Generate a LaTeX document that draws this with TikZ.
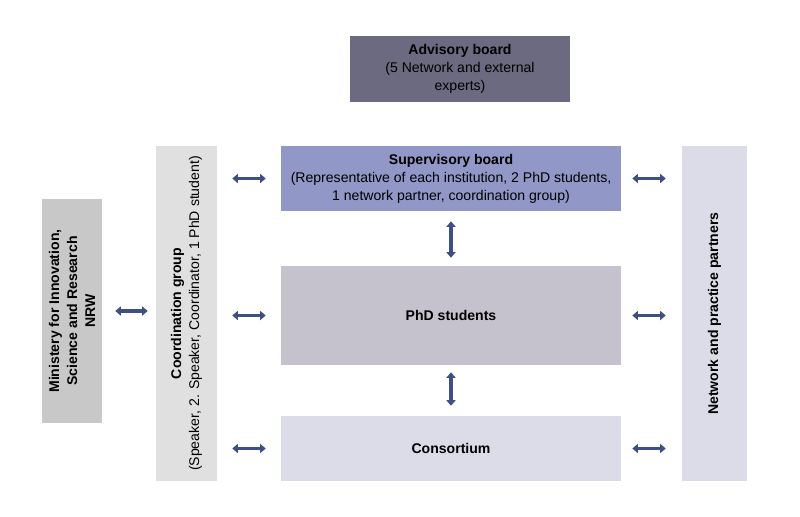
\documentclass[tikz,border=0pt]{standalone}
\usepackage{fontspec}
\setmainfont{Liberation Sans}
\usepackage{xcolor}
\usepackage{tikz}
\usetikzlibrary{shapes, arrows.meta, positioning}
\definecolor{advisory}{HTML}{6B6A80}
\definecolor{supervisory}{HTML}{9198C8}
\definecolor{phd}{HTML}{C5C2CE}
\definecolor{consortium}{HTML}{DCDCE8}
\definecolor{ministry}{HTML}{C8C8C8}
\definecolor{coordination}{HTML}{E0E0E0}
\definecolor{arrowblue}{HTML}{3F4F82}

\begin{document}
\begin{tikzpicture}
  [
    x=0.025cm, y=-0.025cm,
    Box/.style={rectangle, draw=none, align=center, font=\fontsize{10}{12.8}\selectfont, inner sep=2pt},
    Wide/.style={Box, minimum width=8.5cm},
    Tall/.style={Box, rotate=90, minimum width=8.375cm},
    Link/.style={{Triangle[length=4pt,width=6.5pt]}-{Triangle[length=4pt,width=6.5pt]}, draw=arrowblue, line width=2.5pt}
  ]
  \useasboundingbox (0,0) rectangle (800,516);
  % Nodes
  \node[Box, fill=advisory, minimum width=5.5cm, minimum height=1.65cm] (adv) at(460, 69)
    {\textbf{Advisory board}\\(5 Network and external\\experts)};
  \node[Wide, fill=supervisory, minimum height=1.625cm] (sup) at(451, 178.5)
    {\textbf{Supervisory board}\\(Representative of each institution, 2 PhD students,\\1 network partner, coordination group)};
  \node[Wide, fill=phd, minimum height=2.475cm] (phd) at(451, 315.5) {\textbf{PhD students}};
  \node[Wide, fill=consortium, minimum height=1.625cm] (cons) at(451, 448.5) {\textbf{Consortium}};
  \node[Box, fill=ministry, rotate=90, minimum width=5.6cm, minimum height=1.5cm] (min) at(72, 311)
    {\textbf{Ministery for Innovation,}\\\textbf{Science and Research}\\\textbf{NRW}};
  \node[Tall, fill=coordination, minimum height=1.525cm] (coord) at(186.5, 313.5)
    {\textbf{Coordination group}\\(Speaker, 2. Speaker, Coordinator, 1 PhD student)};
  \node[Tall, fill=consortium, minimum height=1.625cm] (net) at(714.5, 313.5)
    {\textbf{Network and practice partners}};
  % Lines
  \path [Link, shorten <=13pt*0.71, shorten >=8pt*0.71] (min.south) -- (min.south -| coord.north);
  \path [Link, shorten <=15pt*0.71, shorten >=15pt*0.71] (coord.south |- sup.west) -- (sup.west);
  \path [Link, shorten <=15pt*0.71, shorten >=15pt*0.71] (coord.south |- phd.west) -- (phd.west);
  \path [Link, shorten <=15pt*0.71, shorten >=15pt*0.71] (coord.south |- cons.west) -- (cons.west);
  \path [Link, shorten <=11pt*0.71, shorten >=16pt*0.71] (sup.east) -- (sup.east -| net.north);
  \path [Link, shorten <=11pt*0.71, shorten >=16pt*0.71] (phd.east) -- (phd.east -| net.north);
  \path [Link, shorten <=11pt*0.71, shorten >=16pt*0.71] (cons.east) -- (cons.east -| net.north);
  \path [Link, shorten <=10pt*0.71, shorten >=8pt*0.71] (sup.south) -- (phd.north);
  \path [Link, shorten <=7pt*0.71, shorten >=10pt*0.71] (phd.south) -- (cons.north);
\end{tikzpicture}
\end{document}
